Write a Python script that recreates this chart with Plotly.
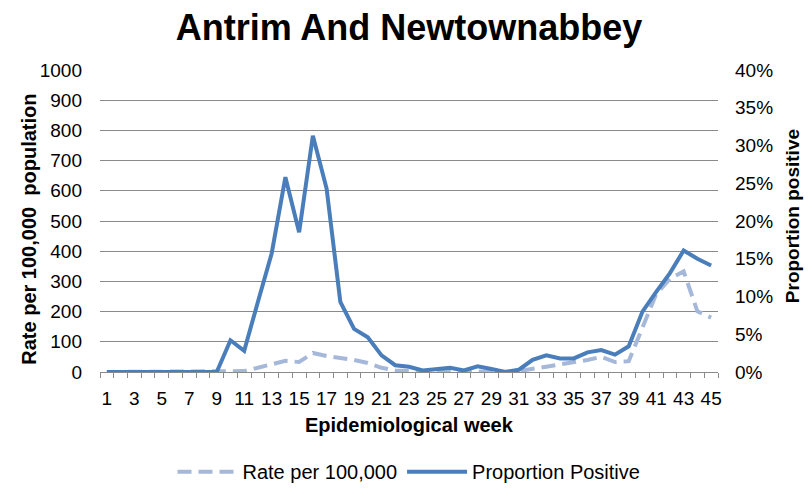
import plotly.graph_objects as go

weeks = list(range(1, 46))

rate_per_100k = [0, 0, 0, 0, 0, 0, 0, 0, 0, 2,
                 3, 14, 27, 37, 33, 63, 53, 48, 40, 30,
                 14, 5, 3, 1, 1, 2, 1, 2, 1, 1,
                 3, 10, 19, 25, 30, 40, 50, 33, 36, 150,
                 258, 309, 333, 201, 180]

proportion_positive = [0, 0, 0, 0, 0, 0, 0, 0, 0, 4.2,
                       2.8, 9.3, 15.7, 25.8, 18.5, 31.3, 24.3, 9.3, 5.7, 4.6,
                       2.2, 0.9, 0.7, 0.2, 0.35, 0.55, 0.2, 0.75, 0.4, 0.0,
                       0.3, 1.6, 2.2, 1.8, 1.8, 2.6, 2.9, 2.3, 3.4, 8.0,
                       10.6, 13.1, 16.1, 15.0, 14.1]

x_tick_vals = list(range(1, 46, 2))
x_tick_labels = [str(w) for w in x_tick_vals]
left_ticks = list(range(0, 1001, 100))
right_ticks = list(range(0, 41, 5))
right_tick_labels = [f"{v}%" for v in right_ticks]

FONT = "Liberation Sans, Arial, sans-serif"
GRID = "#8a8a8a"

fig = go.Figure()
fig.add_trace(go.Scatter(
    x=weeks, y=rate_per_100k, name="Rate per 100,000", mode="lines",
    line=dict(color="#a6b8d9", width=4, dash="14px,7px"), yaxis="y"))
fig.add_trace(go.Scatter(
    x=weeks, y=proportion_positive, name="Proportion Positive", mode="lines",
    line=dict(color="#4a7ebb", width=4), yaxis="y2"))

fig.update_layout(
    width=809, height=503,
    margin=dict(l=100, r=91, t=70, b=121),
    paper_bgcolor="white", plot_bgcolor="white",
    font=dict(family=FONT, size=19, color="#000000"),
    showlegend=True,
    legend=dict(orientation="h", x=0.5, xanchor="center", y=-0.33, yanchor="middle",
                font=dict(size=20), itemwidth=60, tracegroupgap=0),
    xaxis=dict(
        range=[0.5, 45.5], tickmode="array",
        tickvals=x_tick_vals, ticktext=x_tick_labels,
        ticks="", showgrid=False, zeroline=False,
        showline=True, linecolor=GRID, linewidth=1.3,
        ticklabelstandoff=9,
        minor=dict(ticks="outside", tick0=0.5, dtick=1, ticklen=5,
                   tickcolor=GRID, tickwidth=1.3, showgrid=False),
    ),
    yaxis=dict(
        range=[0, 1000], tickmode="array", tickvals=left_ticks,
        ticktext=[str(v) for v in left_ticks], ticks="",
        showgrid=True, gridcolor=GRID, gridwidth=1.3, zeroline=False,
        showline=False, ticklabelstandoff=17,
    ),
    yaxis2=dict(
        range=[0, 40], tickmode="array", tickvals=right_ticks,
        ticktext=right_tick_labels,
        overlaying="y", side="right", showgrid=False, zeroline=False,
        showline=False, ticks="", ticklabelstandoff=16,
    ),
    title=dict(text="<b>Antrim And Newtownabbey</b>", x=(409) / 809, xanchor="center",
               y=1 - 27 / 503, yanchor="middle", yref="container",
               font=dict(size=36, family=FONT)),
    annotations=[
        dict(text="<b>Epidemiological week</b>", xref="paper", yref="paper",
             x=0.5, y=(382 - 437) / 312, xanchor="center", yanchor="middle",
             showarrow=False, font=dict(size=20)),
        dict(text="<b>Rate per 100,000  population</b>", xref="paper", yref="paper",
             x=(29 - 100) / 618, y=(382 - 235) / 312, xanchor="center", yanchor="middle",
             textangle=-90, showarrow=False, font=dict(size=20)),
        dict(text="<b>Proportion positive</b>", xref="paper", yref="paper",
             x=(792 - 100) / 618, y=(382 - 221) / 312, xanchor="center", yanchor="middle",
             textangle=-90, showarrow=False, font=dict(size=19)),
    ],
)

fig.write_html("out.html",
               config={"displayModeBar": False},
               post_script="document.body.style.margin='0px';"
                           "document.body.style.overflow='hidden';")
